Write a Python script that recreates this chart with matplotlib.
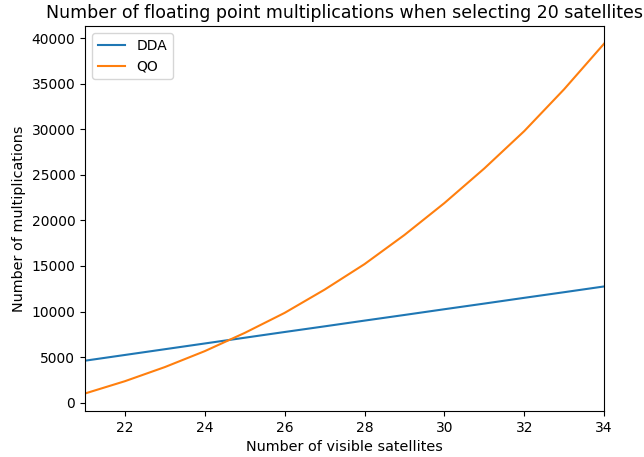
import matplotlib
matplotlib.use("Agg")
import matplotlib.pyplot as plt

n_visible = [21, 22, 23, 24, 25, 26, 27, 28, 29, 30, 31, 32, 33, 34]
dda_mults = [4600, 5230, 5860, 6490, 7120, 7750, 8370, 9000, 9620, 10250, 10870, 11500, 12120, 12750]
qo_mults = [1000, 2350, 3900, 5650, 7650, 9850, 12400, 15200, 18400, 21900, 25700, 29800, 34400, 39400]

fig = plt.figure(figsize=(6.44, 4.57), dpi=100)
ax = fig.add_axes([0.132, 0.1007, 0.806, 0.842])
ax.plot(n_visible, dda_mults, label="DDA")
ax.plot(n_visible, qo_mults, label="QO")
ax.set_xlim(21, 34)
ax.set_xlabel("Number of visible satellites", fontsize=10.4)
ax.set_ylabel("Number of multiplications", fontsize=10.4)
ax.set_title("Number of floating point multiplications when selecting 20 satellites", fontsize=12.5)
ax.legend(loc="upper left")
fig.savefig("out.png", dpi=100)
